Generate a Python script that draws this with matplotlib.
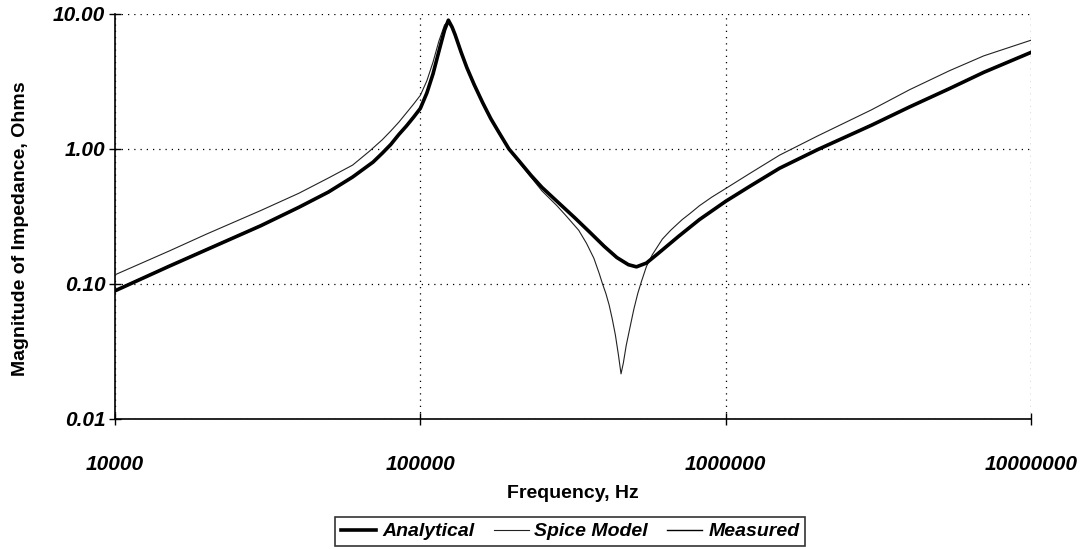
import numpy as np
import matplotlib.pyplot as plt
import matplotlib as mpl

mpl.rcParams['font.family'] = ['Liberation Sans', 'DejaVu Sans']

# frequency points (Hz) and impedance magnitudes (Ohms)
freq_an = [1e4, 1.5e4, 2e4, 3e4, 4e4, 5e4, 6e4, 7e4, 7.5e4, 8e4, 8.5e4, 9e4, 9.5e4,
           1e5, 1.05e5, 1.1e5, 1.15e5, 1.2e5, 1.235e5, 1.27e5, 1.3e5, 1.36e5, 1.42e5,
           1.5e5, 1.6e5, 1.7e5, 1.8e5, 1.95e5, 2.1e5, 2.3e5, 2.5e5, 2.8e5, 3.2e5, 3.6e5,
           4e5, 4.4e5, 4.8e5, 5.1e5, 5.5e5, 6e5, 7e5, 8.2e5, 1e6, 1.2e6, 1.5e6, 2e6, 3e6, 4e6,
           5.4e6, 7e6, 1e7]
z_analytical = [0.089, 0.135, 0.18, 0.27, 0.37, 0.48, 0.62, 0.80, 0.93, 1.08, 1.28, 1.48, 1.72,
                2.0, 2.6, 3.6, 5.3, 7.6, 9.0, 8.0, 7.0, 5.2, 4.0,
                3.0, 2.2, 1.68, 1.35, 1.0, 0.82, 0.64, 0.52, 0.41, 0.31, 0.24,
                0.19, 0.157, 0.139, 0.134, 0.143, 0.168, 0.225, 0.30, 0.41, 0.53, 0.72, 0.99, 1.5, 2.05,
                2.8, 3.7, 5.2]
z_measured = [0.090, 0.136, 0.182, 0.272, 0.368, 0.482, 0.625, 0.805, 0.935, 1.09, 1.29, 1.49, 1.74,
              2.02, 2.62, 3.62, 5.25, 7.5, 8.9, 8.0, 7.05, 5.25, 4.02,
              3.02, 2.21, 1.69, 1.36, 1.01, 0.825, 0.645, 0.522, 0.412, 0.312, 0.242,
              0.192, 0.158, 0.140, 0.135, 0.144, 0.169, 0.227, 0.302, 0.412, 0.532, 0.725, 0.995, 1.51, 2.06,
              2.82, 3.72, 5.22]

freq_sp = [1e4, 1.5e4, 2e4, 3e4, 4e4, 5e4, 6e4, 6.8e4, 7.5e4, 8e4, 8.5e4, 9e4, 9.5e4,
           1e5, 1.05e5, 1.1e5, 1.15e5, 1.2e5, 1.23e5, 1.27e5, 1.3e5, 1.36e5, 1.42e5,
           1.5e5, 1.6e5, 1.7e5, 1.8e5, 1.95e5, 2.1e5, 2.3e5, 2.5e5, 2.8e5, 3.0e5, 3.3e5,
           3.5e5, 3.7e5, 3.85e5, 3.95e5, 4.05e5, 4.15e5, 4.25e5, 4.35e5, 4.45e5, 4.54e5,
           4.62e5, 4.72e5, 4.86e5, 5.0e5, 5.15e5, 5.3e5, 5.5e5, 5.75e5, 6.2e5, 6.6e5,
           7.2e5, 7.6e5, 8.2e5, 9e5, 1e6, 1.2e6, 1.5e6, 2e6, 3e6, 4e6, 5.4e6, 7e6, 1e7]
z_spice = [0.117, 0.175, 0.235, 0.35, 0.47, 0.61, 0.76, 0.96, 1.17, 1.36, 1.58, 1.85, 2.15,
           2.5, 3.2, 4.4, 6.3, 8.3, 8.7, 7.8, 6.9, 5.1, 3.95,
           2.95, 2.15, 1.65, 1.32, 0.99, 0.8, 0.62, 0.49, 0.38, 0.32, 0.25,
           0.20, 0.155, 0.12, 0.10, 0.085, 0.07, 0.055, 0.042, 0.030, 0.0216,
           0.026, 0.035, 0.048, 0.065, 0.085, 0.105, 0.135, 0.165, 0.215, 0.25,
           0.30, 0.33, 0.38, 0.44, 0.51, 0.66, 0.90, 1.25, 1.95, 2.75, 3.8, 4.9, 6.4]

x_ticks = [1e4, 1e5, 1e6, 1e7]
x_labels = ['10000', '100000', '1000000', '10000000']
y_ticks = [0.01, 0.1, 1, 10]
y_labels = ['0.01', '0.10', '1.00', '10.00']

fig = plt.figure(figsize=(10.9, 5.49), dpi=100)
ax = fig.add_axes([0.1055, 0.2368, 0.8405, 0.7377])

ax.plot(freq_sp, z_spice, color='#222222', linewidth=0.8, label='Spice Model', zorder=3)
ax.plot(freq_an, z_analytical, color='black', linewidth=2.6, label='Analytical', zorder=4)
ax.plot(freq_an, z_measured, color='black', linewidth=1.0, label='Measured', zorder=5)

ax.set_xscale('log')
ax.set_yscale('log')
ax.set_xlim(1e4, 1e7)
ax.set_ylim(0.01, 10)
ax.set_xticks(x_ticks)
ax.set_xticklabels(x_labels)
ax.set_yticks(y_ticks)
ax.set_yticklabels(y_labels)
ax.minorticks_off()
ax.tick_params(direction='inout', length=8, width=1.0, labelsize=15)
ax.tick_params(axis='y', pad=3)
ax.tick_params(axis='x', pad=22)
for lab in ax.get_xticklabels() + ax.get_yticklabels():
    lab.set_fontweight('bold')
    lab.set_fontstyle('italic')

ax.spines['top'].set_visible(False)
ax.spines['right'].set_visible(False)
ax.spines['left'].set_linewidth(1.2)
ax.spines['bottom'].set_linewidth(1.2)
ax.grid(True, which='major', color='black', linestyle=(0, (1, 4)), linewidth=0.9)

ax.set_xlabel('Frequency, Hz', fontsize=14, fontweight='bold')
ax.set_ylabel('Magnitude of Impedance, Ohms', fontsize=14, fontweight='bold')
ax.xaxis.set_label_coords(0.5, -0.163)
ax.yaxis.set_label_coords(-0.094, 0.47)

handles, labels = ax.get_legend_handles_labels()
order = [1, 0, 2]
leg = ax.legend([handles[i] for i in order], [labels[i] for i in order],
                loc='upper center', bbox_to_anchor=(0.497, -0.218), ncol=3,
                frameon=True, fancybox=False, edgecolor='black', handlelength=1.8,
                handletextpad=0.3, columnspacing=1.0, borderpad=0.3,
                prop={'size': 14, 'weight': 'bold', 'style': 'italic'})
leg.get_frame().set_linewidth(1.2)

plt.savefig('out.png', dpi=100)
